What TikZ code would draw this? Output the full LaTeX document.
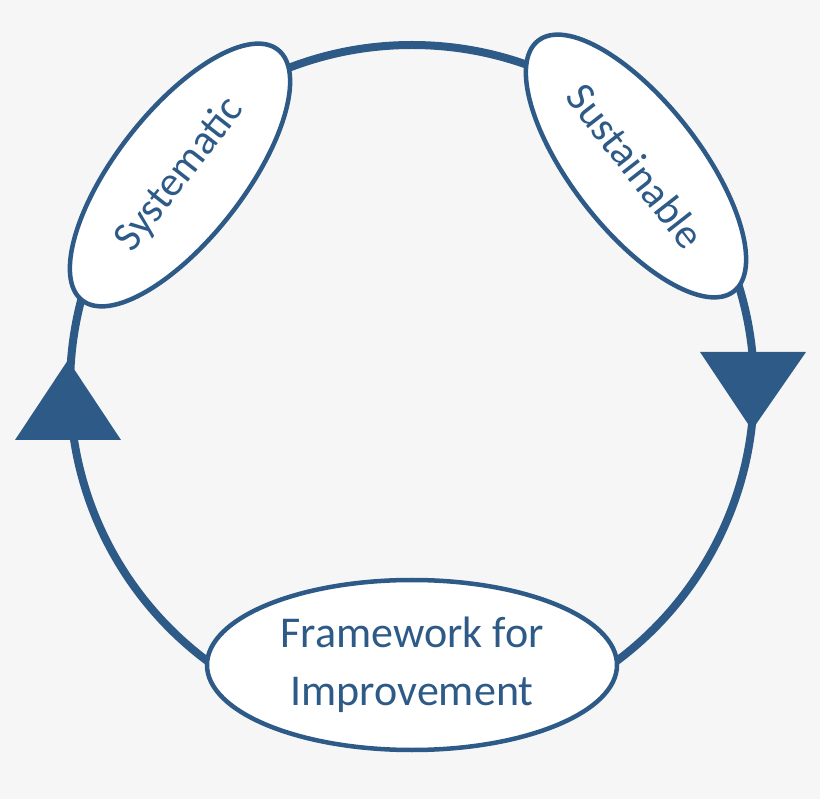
\documentclass[tikz,border=0pt]{standalone}
\usepackage{fontspec}
\setmainfont{Carlito}
\usetikzlibrary{shapes.geometric}
\definecolor{cblue}{HTML}{2E5A87}
\definecolor{bg}{HTML}{F6F6F6}
\begin{document}
\begin{tikzpicture}[x=1pt,y=-1pt,
  lbl/.style={ellipse,draw=cblue,line width=4.5pt,fill=white,text=cblue,inner sep=0pt,align=center},
  tri/.style={fill=cblue}]
\fill[bg] (0,0) rectangle (820,799);
\useasboundingbox (0,0) rectangle (820,799);
\coordinate (c) at (412,387);
\draw[cblue,line width=8pt] (c) circle[radius=342];
\fill[tri] (68,360) -- (15,440) -- (121,440) -- cycle;
\fill[tri] (700,352) -- (806,352) -- (752,430) -- cycle;
\node[lbl,minimum width=318,minimum height=128,rotate=52,font=\fontsize{42}{46}\selectfont] (sys) at (180,175) {Systematic};
\node[lbl,minimum width=318,minimum height=128,rotate=-52,font=\fontsize{42}{46}\selectfont] (sus) at (636,166) {Sustainable};
\node[lbl,minimum width=410,minimum height=170,font=\fontsize{44}{58}\selectfont] (fw) at (412,665) {Framework for\\Improvement};
\end{tikzpicture}
\end{document}
